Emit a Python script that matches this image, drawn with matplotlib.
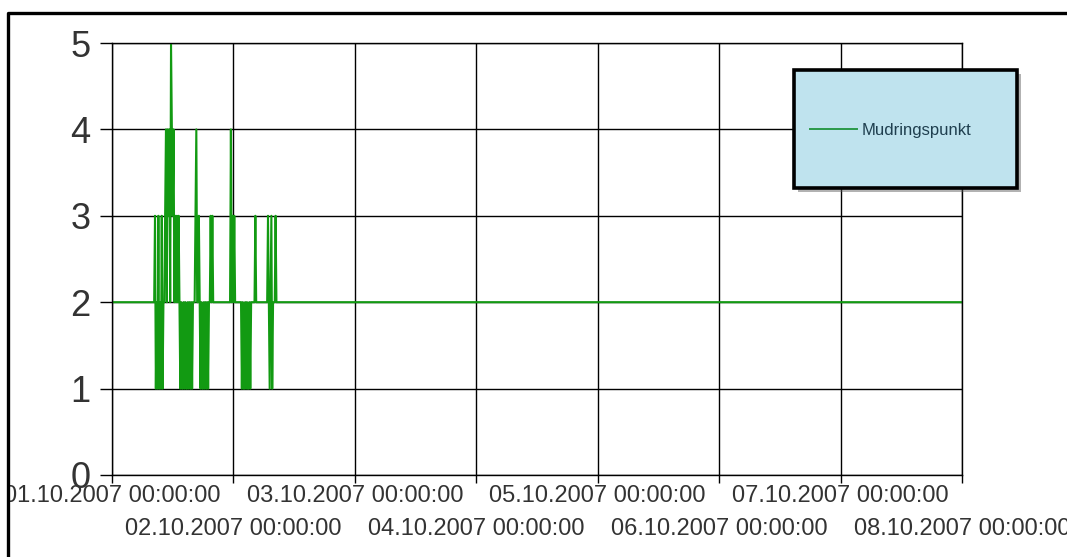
import matplotlib
matplotlib.use('Agg')
import matplotlib.pyplot as plt
import matplotlib.dates as mdates
from matplotlib.patches import Rectangle
from matplotlib.lines import Line2D
from datetime import datetime, timedelta

W, H = 1067, 557
plt.rcParams['font.family'] = ['Liberation Sans', 'DejaVu Sans']

seriesName = 'Mudringspunkt'
startTime = datetime(2007, 10, 1, 0, 0)
endTime = datetime(2007, 10, 8, 0, 0)
baseValue = 2
# 10 minute readings from 01.10.2007 08:00
noiseStart = datetime(2007, 10, 1, 8, 0)
readings = [2, 2, 2, 3, 1, 2, 1, 3, 1, 2,
            1, 3, 1, 2, 2, 3, 4, 2, 4, 3,
            4, 2, 5, 4, 3, 4, 2, 3, 2, 3,
            2, 3, 2, 1, 2, 1, 1, 2, 1, 2,
            1, 1, 2, 1, 2, 1, 2, 1, 2, 2,
            2, 3, 4, 2, 2, 3, 2, 1, 2, 1,
            1, 2, 1, 2, 1, 2, 1, 2, 2, 3,
            2, 3, 2, 2, 2, 2, 2, 2, 2, 2,
            2, 2, 2, 2, 2, 2, 2, 2, 2, 2,
            2, 2, 2, 4, 2, 3, 2, 3, 2, 2,
            2, 2, 2, 2, 2, 2, 1, 2, 1, 1,
            2, 1, 2, 1, 1, 2, 1, 2, 2, 2,
            2, 2, 3, 2, 2, 2, 2, 2, 2, 2,
            2, 2, 2, 2, 2, 2, 2, 3, 2, 1,
            2, 3, 1, 2, 2, 2, 3, 2, 2, 2,
            2]
yTicks = [0, 1, 2, 3, 4, 5]
majorDays = [1, 3, 5, 7]
minorDays = [2, 4, 6, 8]

times = [startTime] + [noiseStart + timedelta(minutes=10 * i) for i in range(len(readings))] + [endTime]
values = [baseValue] + readings + [baseValue]

fig = plt.figure(figsize=(W / 100, H / 100), dpi=100)
ax = fig.add_axes([112 / W, 1 - 475 / H, 850 / W, 432 / H])

lineColor = '#129a12'
ax.plot(times, values, color=lineColor, linewidth=1.5, label=seriesName)

ax.set_xlim(startTime, endTime)
ax.set_ylim(0, 5)
ax.set_yticks(yTicks)

ax.xaxis.set_major_locator(mdates.DayLocator(bymonthday=majorDays))
ax.xaxis.set_minor_locator(mdates.DayLocator(bymonthday=minorDays))
fmt = mdates.DateFormatter('%d.%m.%Y %H:%M:%S')
ax.xaxis.set_major_formatter(fmt)
ax.xaxis.set_minor_formatter(fmt)

ax.grid(True, which='both', color='black', linewidth=1.0)
for s in ax.spines.values():
    s.set_color('black')
    s.set_linewidth(1.0)
ax.set_axisbelow(True)

ax.tick_params(axis='y', length=8.5, width=1.0, pad=7, labelsize=26, labelcolor='#333333')
ax.tick_params(axis='x', which='major', length=6, width=1.0, pad=1.3, labelsize=17, labelcolor='#333333')
ax.tick_params(axis='x', which='minor', length=6, width=1.0, pad=25.3, labelsize=17, labelcolor='#333333')
for lbl in ax.get_yticklabels():
    lbl.set_verticalalignment('center_baseline')

# the picture is cut at the outer frame on the left
fig.add_artist(Rectangle((0, 0), 8 / W, 1, transform=fig.transFigure,
                         facecolor='white', edgecolor='none', zorder=2))
fig.add_artist(Line2D([8 / W, 8 / W, 1], [0, 1 - 13 / H, 1 - 13 / H],
                      transform=fig.transFigure, color='black', linewidth=2.4, zorder=3))

# legend box with shadow
bx, by, bw, bh = 794 / W, 1 - 188 / H, 223 / W, 118 / H
fig.add_artist(Rectangle((bx + 4 / W, by - 4 / H), bw, bh, transform=fig.transFigure,
                         facecolor='#555555', edgecolor='none', alpha=0.45, zorder=3))
fig.add_artist(Rectangle((bx, by), bw, bh, transform=fig.transFigure,
                         facecolor='#bfe3ee', edgecolor='black', linewidth=2.6, zorder=4))
handle = Line2D([], [], color='#2a9a4a', linewidth=1.4)
leg = fig.legend([handle], [seriesName], loc='center left',
                 bbox_to_anchor=(802 / W, 1 - 130 / H), bbox_transform=fig.transFigure,
                 frameon=False, fontsize=12, borderpad=0, handlelength=2.8, handletextpad=0.25,
                 labelcolor='#1f3f4f')
leg.set_zorder(5)

fig.savefig('out.png', dpi=100)
